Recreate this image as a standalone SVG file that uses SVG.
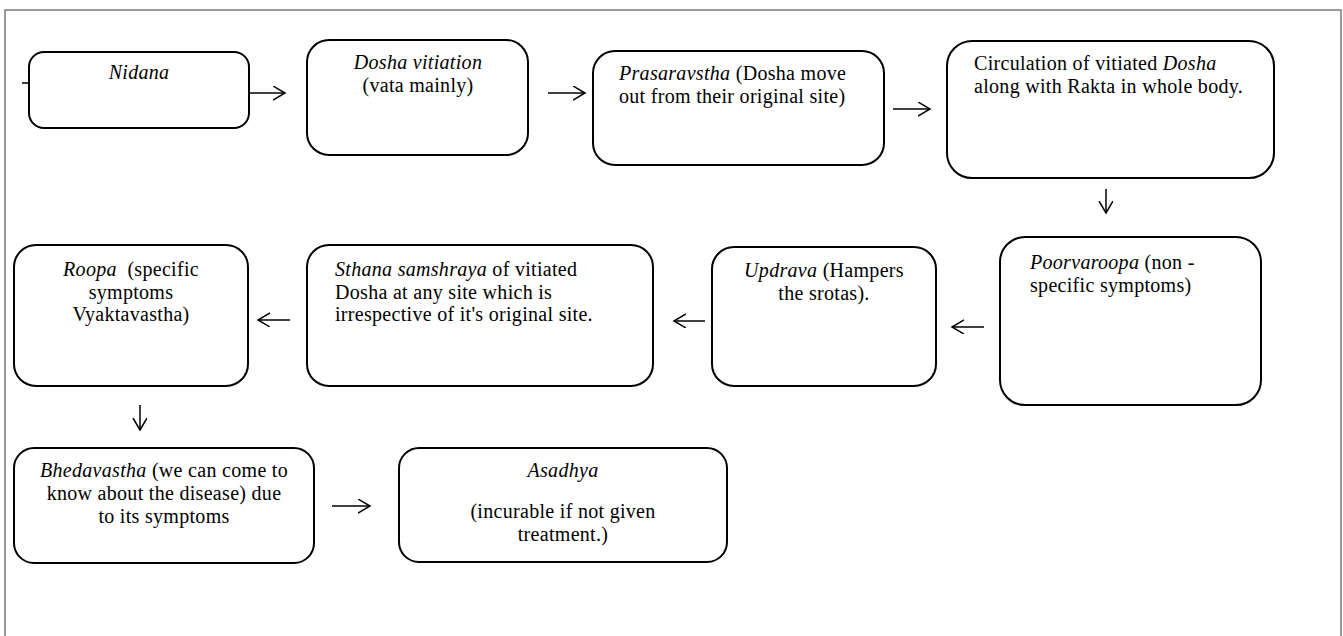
<svg xmlns="http://www.w3.org/2000/svg" width="1343" height="636" viewBox="0 0 1343 636">
<style>
.box{fill:#fff;stroke:#000;stroke-width:2}
.t{font-family:"Liberation Serif","Times New Roman",serif;font-size:20px;letter-spacing:0.3px;fill:#000}
.c{text-anchor:middle}
.i{font-style:italic}
.con{stroke:#000;stroke-width:1.5;fill:none;marker-end:url(#ah)}
</style>
<defs>
<marker id="ah" markerUnits="userSpaceOnUse" markerWidth="16" markerHeight="16" refX="12" refY="7" orient="auto">
<path d="M0,0 L12,7 L0,14" fill="none" stroke="#000" stroke-width="1.5"/>
</marker>
</defs>
<rect width="1343" height="636" fill="#fff"/>
<path d="M5,636 L5,10 L1341,10 L1341,636" fill="none" stroke="#7a7a7a" stroke-width="1.5"/>
<g id="connectors">
<path d="M22,83 L29,83" stroke="#000" stroke-width="1.5"/>
<path class="con" d="M249,93 L285,93"/>
<path class="con" d="M548,93 L585,93"/>
<path class="con" d="M893,109 L930,109"/>
<path class="con" d="M1106,189 L1106,213"/>
<path class="con" d="M984,327 L952,327"/>
<path class="con" d="M705,321 L674,321"/>
<path class="con" d="M290,320 L258,320"/>
<path class="con" d="M140,405 L140,430"/>
<path class="con" d="M332,506 L370,506"/>
</g>
<g id="nidana">
<rect class="box" x="29" y="52" width="220" height="76" rx="15"/>
<text class="t c i" x="139" y="79">Nidana</text>
</g>
<g id="dosha-vitiation">
<rect class="box" x="307" y="40" width="221" height="115" rx="22"/>
<text class="t c" x="418" y="69"><tspan class="i">Dosha vitiation</tspan></text>
<text class="t c" x="418" y="92">(vata mainly)</text>
</g>
<g id="prasaravstha">
<rect class="box" x="593" y="51" width="291" height="114" rx="22"/>
<text class="t" x="619" y="80"><tspan class="i">Prasaravstha</tspan> (Dosha move</text>
<text class="t" x="619" y="103">out from their original site)</text>
</g>
<g id="circulation">
<rect class="box" x="947" y="41" width="327" height="137" rx="25"/>
<text class="t" x="974" y="70">Circulation of vitiated <tspan class="i">Dosha</tspan></text>
<text class="t" x="974" y="93">along with Rakta in whole body.</text>
</g>
<g id="poorvaroopa">
<rect class="box" x="1000" y="237" width="261" height="168" rx="25"/>
<text class="t" x="1030" y="269"><tspan class="i">Poorvaroopa</tspan> (non -</text>
<text class="t" x="1030" y="292">specific symptoms)</text>
</g>
<g id="updrava">
<rect class="box" x="712" y="247" width="224" height="139" rx="22"/>
<text class="t c" x="824" y="277"><tspan class="i">Updrava</tspan> (Hampers</text>
<text class="t c" x="824" y="300">the srotas).</text>
</g>
<g id="sthana-samshraya">
<rect class="box" x="307" y="245" width="346" height="141" rx="22"/>
<text class="t" x="335" y="276"><tspan class="i">Sthana samshraya</tspan> of vitiated</text>
<text class="t" x="335" y="299">Dosha at any site which is</text>
<text class="t" x="335" y="321">irrespective of it's original site.</text>
</g>
<g id="roopa">
<rect class="box" x="14" y="245" width="234" height="141" rx="22"/>
<text class="t c" x="131" y="276" xml:space="preserve"><tspan class="i">Roopa</tspan>  (specific</text>
<text class="t c" x="131" y="299">symptoms</text>
<text class="t c" x="131" y="321">Vyaktavastha)</text>
</g>
<g id="bhedavastha">
<rect class="box" x="14" y="448" width="300" height="115" rx="20"/>
<text class="t c" x="164" y="477"><tspan class="i">Bhedavastha</tspan> (we can come to</text>
<text class="t c" x="164" y="500">know about the disease) due</text>
<text class="t c" x="164" y="523">to its symptoms</text>
</g>
<g id="asadhya">
<rect class="box" x="399" y="448" width="328" height="114" rx="20"/>
<text class="t c i" x="563" y="477">Asadhya</text>
<text class="t c" x="563" y="518">(incurable if not given</text>
<text class="t c" x="563" y="541">treatment.)</text>
</g>
</svg>
